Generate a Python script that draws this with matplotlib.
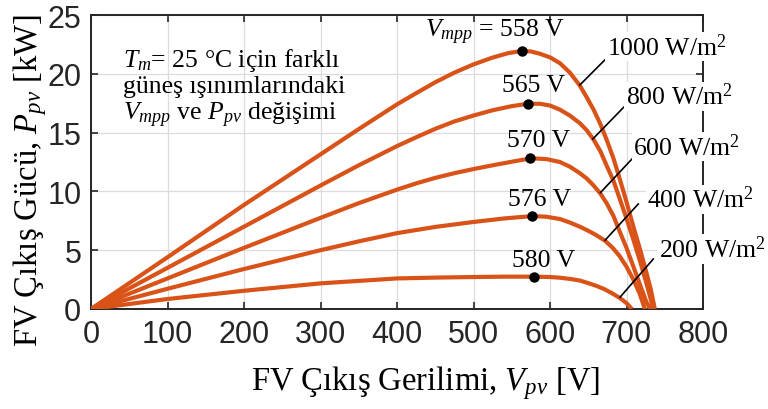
import matplotlib
matplotlib.use("Agg")
import matplotlib.pyplot as plt

plt.rcParams['mathtext.fontset'] = 'custom'
plt.rcParams['mathtext.rm'] = 'Liberation Serif'
plt.rcParams['mathtext.it'] = 'Liberation Serif:italic'
plt.rcParams['mathtext.bf'] = 'Liberation Serif:bold'

# ---- data ----
irradiance_labels = ["1000 W/m$^2$", "800 W/m$^2$", "600 W/m$^2$", "400 W/m$^2$", "200 W/m$^2$"]

v_1000 = [0, 100, 200, 300, 350, 400, 425, 450, 475, 500, 525, 545, 563, 575, 587, 600, 613, 626, 639,
          648, 657, 666, 674, 683, 691, 700, 709, 718, 726, 732, 737]
p_1000 = [0, 4.4, 8.85, 13.15, 15.3, 17.4, 18.35, 19.28, 20.1, 20.8, 21.38, 21.75, 21.95, 21.9, 21.7, 21.4,
          20.9, 20.1, 19.0, 18.0, 16.95, 15.7, 14.4, 12.8, 11.1, 9.1, 7.0, 5.0, 3.1, 1.6, 0]

v_800 = [0, 100, 200, 300, 350, 400, 425, 450, 475, 500, 525, 550, 571, 587, 600, 613, 626, 639,
         648, 657, 666, 674, 683, 691, 700, 709, 718, 726, 731, 735]
p_800 = [0, 3.5, 7.0, 10.5, 12.22, 13.85, 14.6, 15.32, 15.95, 16.45, 16.9, 17.25, 17.45, 17.45, 17.3,
         16.95, 16.45, 15.8, 15.2, 14.4, 13.4, 12.2, 10.9, 9.4, 7.7, 5.9, 4.0, 2.2, 1.0, 0]

v_600 = [0, 100, 200, 300, 350, 400, 425, 450, 475, 500, 525, 550, 565, 580, 595, 613, 626, 639,
         648, 657, 666, 674, 683, 691, 700, 709, 718, 726, 731]
p_600 = [0, 2.6, 5.2, 7.75, 9.0, 10.15, 10.68, 11.15, 11.55, 11.9, 12.22, 12.52, 12.7, 12.8, 12.75,
         12.5, 12.1, 11.55, 11.1, 10.5, 9.8, 9.0, 7.9, 6.6, 5.2, 3.6, 2.0, 0.6, 0]

v_400 = [0, 100, 200, 300, 350, 400, 450, 500, 540, 577, 595, 613, 626, 639, 650, 660, 672, 682,
         691, 700, 709, 717, 724]
p_400 = [0, 1.72, 3.4, 5.0, 5.75, 6.45, 6.98, 7.4, 7.7, 7.9, 7.85, 7.65, 7.35, 7.0, 6.65, 6.3,
         5.8, 5.2, 4.5, 3.6, 2.5, 1.35, 0]

v_200 = [0, 100, 200, 300, 400, 450, 500, 540, 579, 600, 613, 626, 639, 650, 660, 670, 680,
         691, 700, 707]
p_200 = [0, 0.85, 1.55, 2.18, 2.6, 2.67, 2.72, 2.75, 2.75, 2.72, 2.66, 2.56, 2.42, 2.2, 1.98,
         1.72, 1.38, 0.95, 0.5, 0]

mpp_v = [563, 571, 574, 577, 579]
mpp_p = [21.95, 17.45, 12.8, 7.9, 2.75]
mpp_labels = ["$V_{mpp}$ = 558 V", "565 V", "570 V", "576 V", "580 V"]

x_ticks = [0, 100, 200, 300, 400, 500, 600, 700, 800]
y_ticks = [0, 5, 10, 15, 20, 25]

series_v = [v_1000, v_800, v_600, v_400, v_200]
series_p = [p_1000, p_800, p_600, p_400, p_200]

# leader line (curve point -> label end) and label anchor positions
leader_start = [(639, 19.05), (656, 14.46), (666, 9.9), (672, 5.85), (691.5, 1.0)]
leader_end = [(672, 21.2), (697, 17.2), (708.5, 12.85), (715.4, 8.93), (735, 4.25)]
label_pos = [(674, 22.3), (699, 18.1), (708.5, 13.8), (727, 9.35), (742, 5.1)]

# ---- figure ----
fig = plt.figure(figsize=(7.68, 4.10), dpi=100)
ax = fig.add_axes([91/768, 1-310/410, 612/768, 294/410])

color = '#D95319'
dark = '#262626'
for v, p in zip(series_v, series_p):
    ax.plot(v, p, color=color, lw=3.0, solid_capstyle='butt', solid_joinstyle='round', zorder=3)

ax.plot(mpp_v, mpp_p, 'o', color='black', ms=6.5, zorder=4)

serif = 'Liberation Serif'
fs_txt = 18.5

# MPP labels
offsets = [(43, 19), (5.5, 19), (8.5, 18), (7.5, 17), (10, 17)]
for i, (v, p, lab) in enumerate(zip(mpp_v, mpp_p, mpp_labels)):
    ha = 'right' if i == 0 else 'center'
    ax.annotate(lab, (v, p), xytext=offsets[i], textcoords='offset pixels',
                ha=ha, va='center', fontsize=fs_txt, family=serif, color='black', zorder=5)

# irradiance labels with leaders
for lab, s, e, pos in zip(irradiance_labels, leader_start, leader_end, label_pos):
    ax.plot([s[0], e[0]], [s[1], e[1]], color='black', lw=1.2, zorder=5, clip_on=False)
    ax.text(pos[0], pos[1], lab, ha='left', va='center', fontsize=fs_txt, family=serif,
            color='black', zorder=6, clip_on=False,
            bbox=dict(facecolor='white', edgecolor='none', pad=1.0))

# info text
ax.text(0.052, 0.895, "$T_m$= 25 °C için farklı\ngüneş ışınımlarındaki\n$V_{mpp}$ ve $P_{pv}$ değişimi",
        transform=ax.transAxes, ha='left', va='top', fontsize=fs_txt, family=serif,
        linespacing=1.15, color='black')

ax.set_xlim(0, 800)
ax.set_ylim(0, 25)
ax.set_xticks(x_ticks)
ax.set_yticks(y_ticks)
ax.grid(True, color='#dcdcdc', lw=0.9)
ax.set_axisbelow(True)
for sp in ax.spines.values():
    sp.set_color(dark)
    sp.set_linewidth(1.4)
    sp.set_zorder(2.5)
ax.tick_params(direction='in', length=5, width=1.2, colors=dark, top=True, right=True,
               labelsize=22, pad=7)
for lab in ax.get_xticklabels() + ax.get_yticklabels():
    lab.set_family('Liberation Sans')

ax.set_xlabel("FV Çıkış Gerilimi, $V_{pv}$ [V]", fontsize=23.5, family=serif)
ax.set_ylabel("FV Çıkış Gücü, $P_{pv}$ [kW]", fontsize=23.5, family=serif)
ax.xaxis.set_label_coords(0.547, -0.25)
ax.yaxis.set_label_coords(-0.1, 0.44)
ax.xaxis.label.set_va('center')
ax.yaxis.label.set_va('center')

fig.savefig("out.png", dpi=100)
